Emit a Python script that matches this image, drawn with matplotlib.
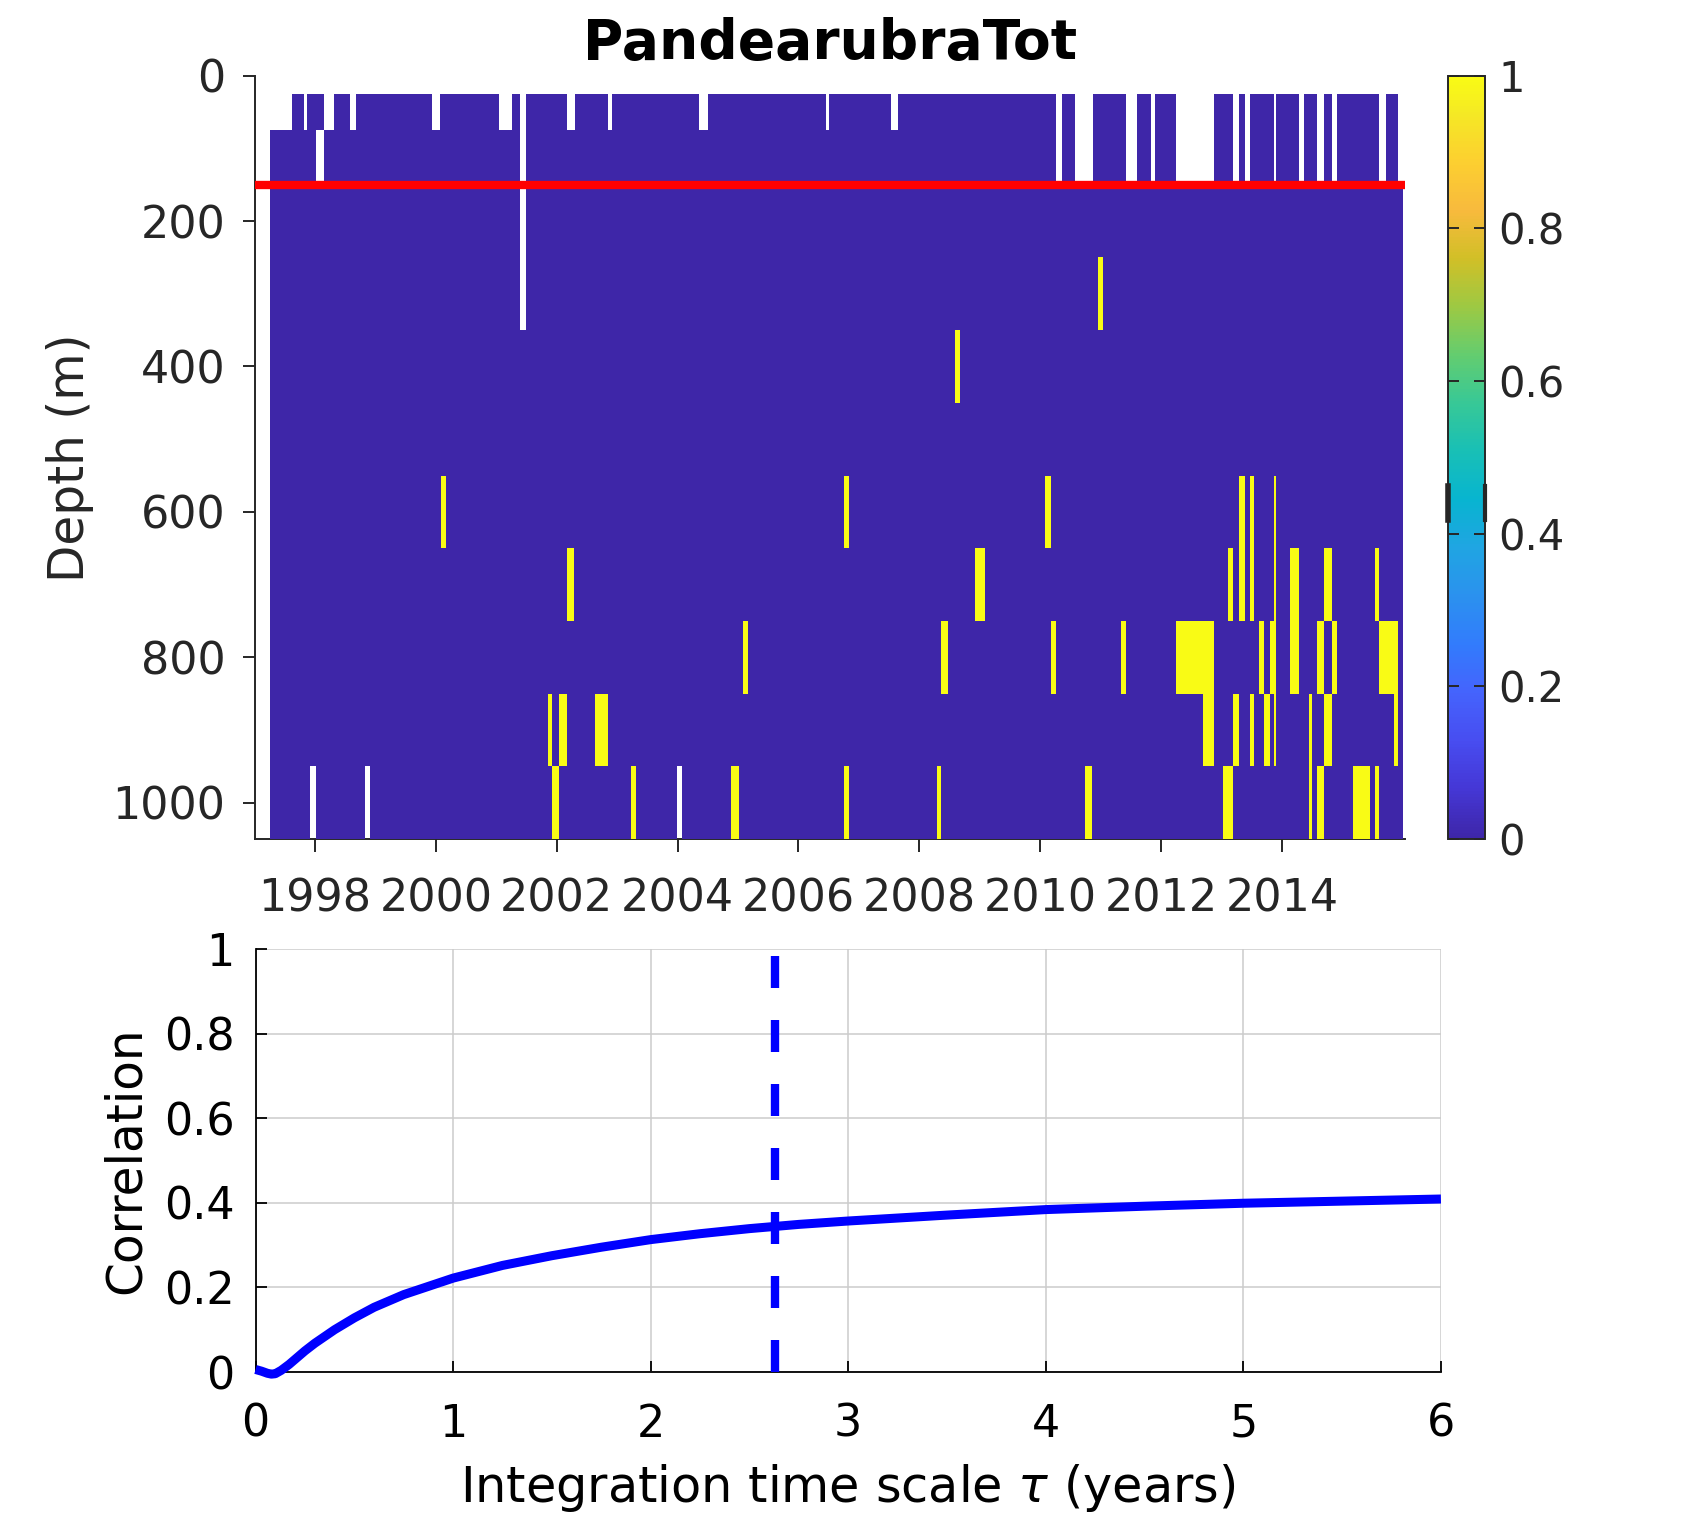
import numpy as np
import matplotlib
matplotlib.use("Agg")
import matplotlib.pyplot as plt
from matplotlib.colors import LinearSegmentedColormap

plt.rcParams['font.family'] = ['DejaVu Sans']
plt.rcParams['mathtext.fontset'] = 'dejavusans'

# ---------------- top panel data (presence / absence per depth bin) ----------------
depth = [50, 100, 200, 300, 400, 500, 600, 700, 800, 900, 1000]
depth_edges = [25, 75, 150, 250, 350, 450, 550, 650, 750, 850, 950, 1050]
t_first, t_last = 1997.25, 2016.0
mld = 150  # red line

# periods without data (white)
gaps_50 = [(1997.25, 1997.626), (1997.822, 1997.867), (1998.152, 1998.31),
           (1998.582, 1998.671), (1999.943, 2000.076), (2001.051, 2001.254),
           (2002.172, 2002.298), (2002.849, 2002.919), (2004.362, 2004.501),
           (2006.46, 2006.51), (2007.53, 2007.64)]
gaps_100 = [(1998.025, 1998.152)]
gaps_50_100 = [(2010.265, 2010.359), (2010.579, 2010.866), (2011.423, 2011.60),
               (2011.837, 2011.903), (2012.253, 2012.874), (2013.193, 2013.291),
               (2013.39, 2013.466), (2013.866, 2013.901), (2014.29, 2014.37),
               (2014.574, 2014.698), (2014.825, 2014.91), (2015.60, 2015.72),
               (2015.92, 2016.0)]
gaps_50_300 = [(2001.393, 2001.494)]
gaps_1000 = [(1997.923, 1998.02), (1998.823, 1998.914), (2003.993, 2004.08)]

# periods where the species is present (value 1)
yellow_300 = [(2010.954, 2011.037)]
yellow_400 = [(2008.594, 2008.677)]
yellow_600 = [(2000.082, 2000.175), (2006.758, 2006.839), (2010.083, 2010.176),
              (2013.297, 2013.384), (2013.466, 2013.541), (2013.866, 2013.901)]
yellow_700 = [(2002.171, 2002.287), (2008.922, 2009.085), (2013.111, 2013.193),
              (2013.297, 2013.384), (2013.466, 2013.541), (2013.866, 2013.901),
              (2014.135, 2014.284), (2014.698, 2014.825), (2015.54, 2015.60)]
yellow_800 = [(2005.09, 2005.171), (2008.365, 2008.475), (2010.176, 2010.263),
              (2011.336, 2011.423), (2012.253, 2012.874), (2013.628, 2013.703),
              (2013.802, 2013.901), (2014.135, 2014.284), (2014.574, 2014.698),
              (2014.825, 2014.91), (2015.60, 2015.92)]
yellow_900 = [(2001.863, 2001.927), (2002.043, 2002.171), (2002.64, 2002.85),
              (2012.70, 2012.874), (2013.193, 2013.291), (2013.466, 2013.541),
              (2013.703, 2013.802), (2013.866, 2013.901), (2014.441, 2014.498),
              (2014.698, 2014.825), (2015.86, 2015.92)]
yellow_1000 = [(2001.927, 2002.043), (2003.233, 2003.314), (2004.887, 2005.014),
               (2006.758, 2006.839), (2008.30, 2008.365), (2010.744, 2010.86),
               (2013.019, 2013.193), (2014.441, 2014.498), (2014.574, 2014.698),
               (2015.18, 2015.46), (2015.54, 2015.60)]

# ---------------- bottom panel data ----------------
tau = [0, 0.03, 0.06, 0.08, 0.1, 0.13, 0.17, 0.2, 0.25, 0.3, 0.4, 0.5, 0.6, 0.75,
       1.0, 1.25, 1.5, 1.75, 2.0, 2.25, 2.5, 2.75, 3.0, 3.5, 4.0, 4.5, 5.0, 5.5, 6.0]
corr = [0.006, 0.002, -0.003, -0.005, -0.004, 0.004, 0.018, 0.03, 0.05, 0.068,
        0.1, 0.128, 0.153, 0.183, 0.222, 0.252, 0.275, 0.295, 0.313, 0.327,
        0.339, 0.349, 0.357, 0.371, 0.384, 0.392, 0.399, 0.404, 0.409]
tau_best = 2.63

# ---------------- build the grid ----------------
missing = {50: gaps_50 + gaps_50_100 + gaps_50_300,
           100: gaps_100 + gaps_50_100 + gaps_50_300,
           200: gaps_50_300, 300: gaps_50_300,
           1000: gaps_1000}
present = {300: yellow_300, 400: yellow_400, 600: yellow_600, 700: yellow_700,
           800: yellow_800, 900: yellow_900, 1000: yellow_1000}

bounds = {t_first, t_last}
for lst in list(missing.values()) + list(present.values()):
    for a, b in lst:
        bounds.update((a, b))
t_edges = np.array(sorted(bounds))
t_mid = 0.5 * (t_edges[:-1] + t_edges[1:])

Z = np.zeros((len(depth), len(t_mid)))
for i, d in enumerate(depth):
    for a, b in present.get(d, []):
        Z[i, (t_mid > a) & (t_mid < b)] = 1
    for a, b in missing.get(d, []):
        Z[i, (t_mid > a) & (t_mid < b)] = np.nan
Z = np.ma.masked_invalid(Z)

# parula (MATLAB) approximation
parula_pts = [(0.0, (0.2422, 0.1504, 0.6603)), (4/63, (0.2706, 0.2147, 0.8364)),
              (8/63, (0.2813, 0.3006, 0.9414)), (12/63, (0.2699, 0.3892, 0.9906)),
              (16/63, (0.1963, 0.4847, 0.9892)), (20/63, (0.1687, 0.5703, 0.9359)),
              (24/63, (0.1248, 0.6459, 0.8883)), (28/63, (0.0297, 0.7082, 0.8163)),
              (32/63, (0.0964, 0.7500, 0.7120)), (36/63, (0.2161, 0.7843, 0.5923)),
              (40/63, (0.3909, 0.8029, 0.4354)), (44/63, (0.6174, 0.7876, 0.2612)),
              (48/63, (0.8203, 0.7498, 0.1535)), (52/63, (0.9728, 0.7298, 0.2394)),
              (56/63, (0.9892, 0.8136, 0.1885)), (60/63, (0.9597, 0.9135, 0.1423)),
              (1.0, (0.9769, 0.9839, 0.0805))]
parula = LinearSegmentedColormap.from_list('parula', parula_pts, N=256)

dark = '#262626'
fig = plt.figure(figsize=(16.97, 15.27), dpi=100)
ax1 = fig.add_axes([0.150, 0.4506, 0.6777, 0.4998])
cax = fig.add_axes([0.8533, 0.4506, 0.0215, 0.4998])
ax2 = fig.add_axes([0.1506, 0.1015, 0.6985, 0.277])

# top panel
mesh = ax1.pcolormesh(t_edges, depth_edges, Z, cmap=parula, vmin=0, vmax=1,
                      shading='flat', antialiased=False, edgecolors='none', zorder=3)
ax1.axhline(mld, color='red', lw=6, zorder=4)
ax1.set_xlim(1997.0, 2016.03)
ax1.set_ylim(1050, 0)
ax1.set_xticks(range(1998, 2015, 2))
ax1.set_yticks(range(0, 1001, 200))
for s in ['top', 'right']:
    ax1.spines[s].set_visible(False)
for s in ['left', 'bottom']:
    ax1.spines[s].set_linewidth(1.4)
    ax1.spines[s].set_color(dark)
ax1.tick_params(direction='out', length=9, width=1.4, labelsize=32,
                colors=dark)
ax1.tick_params(axis='x', pad=19)
ax1.tick_params(axis='y', pad=12)
ax1.set_ylabel('Depth (m)', fontsize=35, color=dark, labelpad=13)
ax1.set_title('PandearubraTot', fontsize=39.7, fontweight='bold', pad=12)

# colorbar
cb = fig.colorbar(mesh, cax=cax)
cb.set_ticks([0, 0.2, 0.4, 0.6, 0.8, 1])
cb.set_ticklabels(['0', '0.2', '0.4', '0.6', '0.8', '1'])
cb.outline.set_linewidth(1.4)
cb.outline.set_edgecolor(dark)
cax.tick_params(direction='in', length=8, width=1.4, labelsize=30, pad=10,
                left=True, right=True, colors=dark)
cax.plot([0, 0], [0.418, 0.463], color=dark, lw=4, clip_on=False, zorder=5)
cax.plot([1, 1], [0.418, 0.463], color=dark, lw=3, clip_on=False, zorder=5)

# bottom panel
ax2.plot(tau, corr, color='blue', lw=6.5, clip_on=False, zorder=4,
         solid_capstyle='butt')
ax2.plot([tau_best, tau_best], [0, 1], color='blue', lw=6, dashes=(3.84, 3.84),
         zorder=4)
ax2.set_xlim(0, 6)
ax2.set_ylim(0, 1)
ax2.set_xticks(range(0, 7))
ax2.set_yticks([0, 0.2, 0.4, 0.6, 0.8, 1])
ax2.set_yticklabels(['0', '0.2', '0.4', '0.6', '0.8', '1'])
ax2.grid(True, color='#cccccc', lw=1.1)
ax2.set_axisbelow(True)
for s in ['top', 'right']:
    ax2.spines[s].set_visible(False)
for s in ['left', 'bottom']:
    ax2.spines[s].set_linewidth(1.3)
ax2.tick_params(direction='in', length=8, width=1.3, labelsize=32)
ax2.tick_params(axis='x', pad=22)
ax2.tick_params(axis='y', pad=15)
ax2.set_xlabel(r'Integration time scale $\tau$ (years)', fontsize=35.6, labelpad=12)
ax2.set_ylabel('Correlation', fontsize=35, labelpad=10)

fig.savefig('out.png', dpi=100)
